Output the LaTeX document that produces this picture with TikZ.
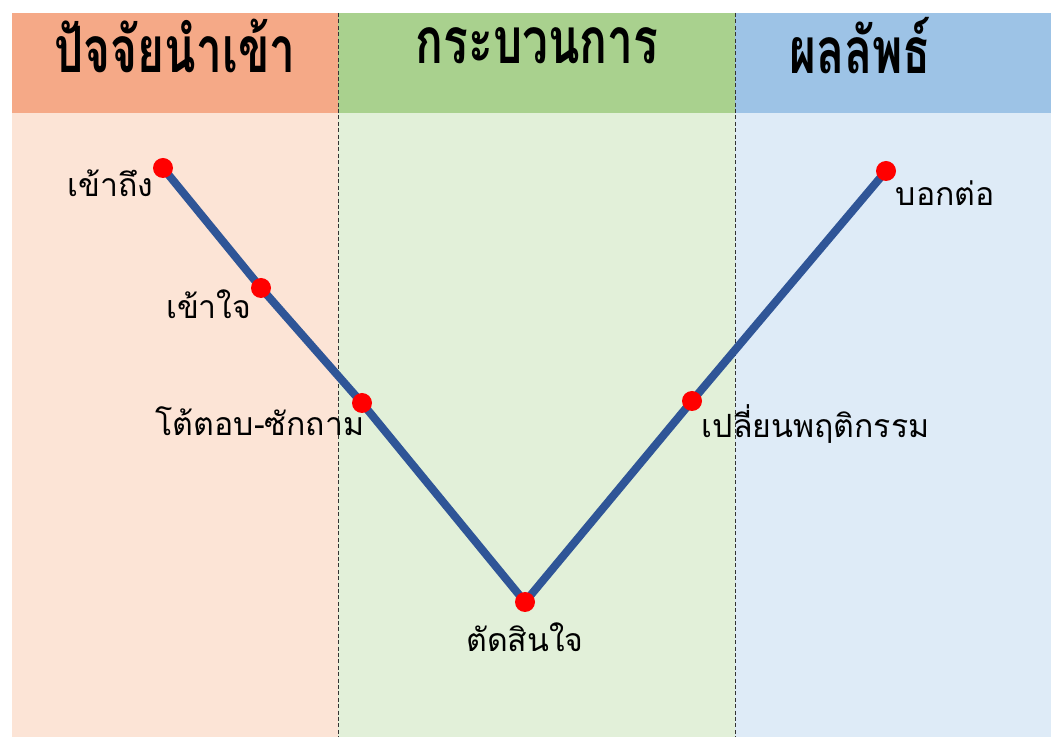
\documentclass[tikz,border=0pt]{standalone}
\usepackage{fontspec}
\newfontfamily\thaifont[Script=Thai]{Loma}
\newfontfamily\headfont[Script=Thai,FakeStretch=0.72]{Loma}
\usetikzlibrary{positioning}
\definecolor{inHead}{HTML}{F5A987}
\definecolor{inBody}{HTML}{FCE4D6}
\definecolor{prHead}{HTML}{A9D18E}
\definecolor{prBody}{HTML}{E2F0D9}
\definecolor{outHead}{HTML}{9DC3E6}
\definecolor{outBody}{HTML}{DEEBF7}
\definecolor{vline}{HTML}{2F5597}

\begin{document}
\begin{tikzpicture}[x=0.5pt,y=-0.5pt,
  head/.style={font=\headfont\bfseries\fontsize{32}{36}\selectfont,inner sep=0pt},
  lbl/.style={font=\thaifont\fontsize{16}{20}\selectfont,inner sep=1pt},
  dot/.style={circle,fill=red,minimum size=10pt,inner sep=0pt},
  sep/.style={dash pattern=on 2pt off 1.2pt,line width=0.4pt,black!80}]
  \useasboundingbox (0,0) rectangle (1051,737);
  \fill[white] (0,0) rectangle (1051,737);

  % ---------- columns ----------
  \fill[inBody]  (12,113) rectangle (338,737);
  \fill[prBody]  (338,113) rectangle (735,737);
  \fill[outBody] (735,113) rectangle (1051,737);
  \fill[inHead]  (12,13) rectangle (338,113);
  \fill[prHead]  (338,13) rectangle (735,113);
  \fill[outHead] (735,13) rectangle (1051,113);
  \draw[sep] (338,13) -- (338,737);
  \draw[sep] (735,13) -- (735,737);

  % ---------- headers ----------
  \node[head] (hin)  at (175,46) {ปัจจัยนำเข้า};
  \node[head] (hpr)  at (537,46) {กระบวนการ};
  \node[head] (hout) at (860,46) {ผลลัพธ์};

  % ---------- steps ----------
  \coordinate (acc) at (163,168);
  \coordinate (und) at (261,288);
  \coordinate (ask) at (362,403);
  \coordinate (dec) at (525,602);
  \coordinate (chg) at (692,401);
  \coordinate (tel) at (886,171);
  \draw[vline,line width=4pt] (acc) -- (und) -- (ask) -- (dec) -- (chg) -- (tel);
  \foreach \p in {acc,und,ask,dec,chg,tel}
    \node[dot] (d\p) at (\p) {};

  % ---------- labels ----------
  \node[lbl,below left=-4pt and 0pt of dacc] (lacc) {เข้าถึง};
  \node[lbl,below left=-4pt and 0pt of dund] (lund) {เข้าใจ};
  \node[lbl,below left=-3pt and -6pt of dask] (lask) {โต้ตอบ-ซักถาม};
  \node[lbl,below=4pt of ddec] (ldec) {ตัดสินใจ};
  \node[lbl,below right=-3pt and 0pt of dchg] (lchg) {เปลี่ยนพฤติกรรม};
  \node[lbl,below right=0pt and 0pt of dtel] (ltel) {บอกต่อ};
\end{tikzpicture}
\end{document}
